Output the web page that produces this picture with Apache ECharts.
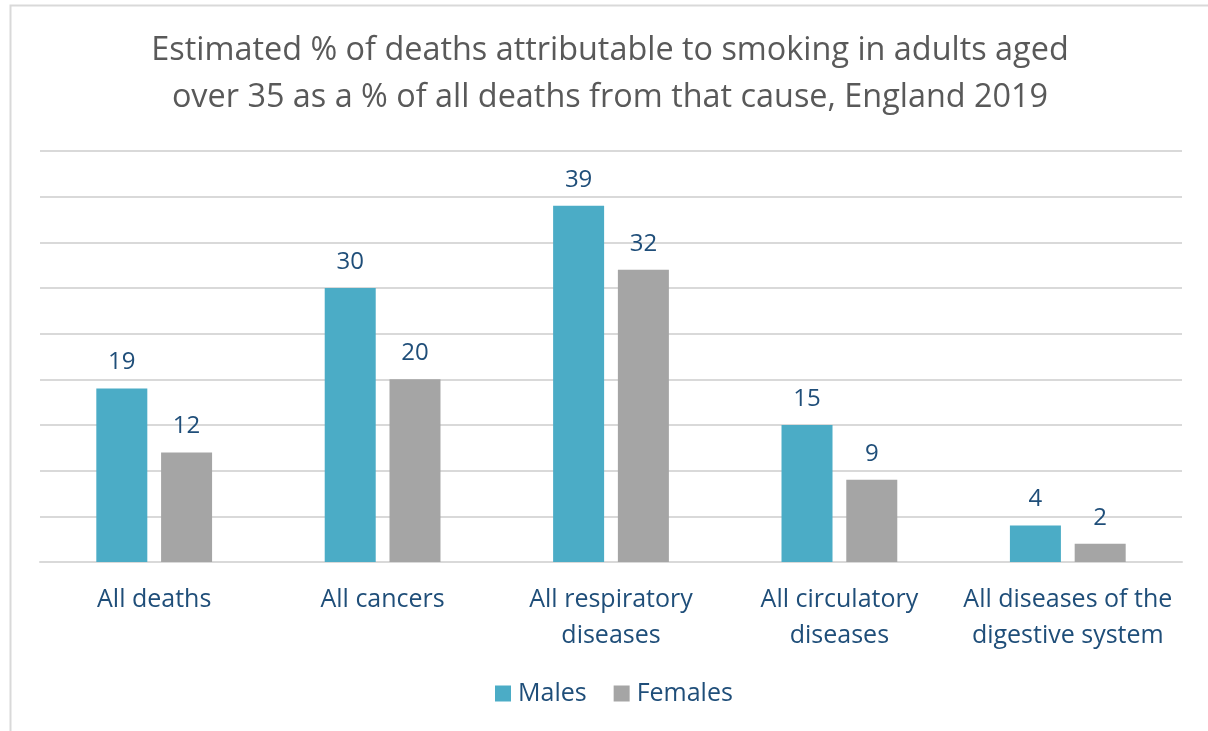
<!DOCTYPE html>
<html>
<head>
<meta charset="utf-8">
<script src="https://cdn.jsdelivr.net/npm/echarts@6/dist/echarts.min.js"></script>
<style>
  html, body { margin: 0; padding: 0; background: #ffffff; }
  #chart { width: 1208px; height: 731px; }
</style>
</head>
<body>
<div id="chart"></div>
<script>
// Cause-of-death groups along the x axis
const categories = [
  'All deaths',
  'All cancers',
  'All respiratory\ndiseases',
  'All circulatory\ndiseases',
  'All diseases of the\ndigestive system'
];
// Estimated % of deaths attributable to smoking
const males = [19, 30, 39, 15, 4];
const females = [12, 20, 32, 9, 2];
const seriesNames = ['Males', 'Females'];
const chartTitle = 'Estimated % of deaths attributable to smoking in adults aged\nover 35 as a % of all deaths from that cause, England 2019';

const FONT = '"Open Sans", Lato, sans-serif';
const LABEL_BLUE = '#1F4E79';

const chart = echarts.init(document.getElementById('chart'));

const labelStyle = {
  show: true,
  position: 'top',
  distance: 14,
  color: LABEL_BLUE,
  fontFamily: FONT,
  fontSize: 24
};

chart.setOption({
  backgroundColor: '#ffffff',
  animation: false,
  graphic: [
    {
      // outer frame of the chart area
      type: 'rect',
      shape: { x: 10.5, y: 5.5, width: 1260, height: 800 },
      style: { fill: 'none', stroke: '#D9D9D9', lineWidth: 2 },
      silent: true,
      z: -1
    },
    {
      // two-line title, centred over the plot
      type: 'text',
      x: 610,
      y: 27,
      silent: true,
      style: {
        text: chartTitle,
        align: 'center',
        textAlign: 'center',
        verticalAlign: 'top',
        textVerticalAlign: 'top',
        fill: '#595959',
        fontFamily: FONT,
        fontSize: 32.4,
        lineHeight: 47
      }
    }
  ],
  legend: {
    data: seriesNames,
    bottom: 20,
    left: 490,
    itemWidth: 16,
    itemHeight: 16,
    itemGap: 27,
    icon: 'rect',
    textStyle: { color: LABEL_BLUE, fontFamily: FONT, fontSize: 25, padding: [0, 0, 0, 2] }
  },
  grid: { left: 40, right: 26, top: 151, bottom: 169 },
  xAxis: {
    type: 'category',
    data: categories,
    axisLine: { show: true, lineStyle: { color: '#D9D9D9', width: 2 } },
    axisTick: { show: false },
    axisLabel: {
      interval: 0,
      color: LABEL_BLUE,
      fontFamily: FONT,
      fontSize: 25,
      lineHeight: 36,
      margin: 20
    }
  },
  yAxis: {
    type: 'value',
    min: 0,
    max: 45,
    interval: 5,
    axisLine: { show: false },
    axisTick: { show: false },
    axisLabel: { show: false },
    splitLine: { lineStyle: { color: '#D9D9D9', width: 2 } }
  },
  series: [
    {
      name: seriesNames[0],
      type: 'bar',
      data: males,
      barWidth: 51,
      barGap: '27%',
      itemStyle: { color: '#4BACC6' },
      label: labelStyle
    },
    {
      name: seriesNames[1],
      type: 'bar',
      data: females,
      barWidth: 51,
      itemStyle: { color: '#A5A5A5' },
      label: labelStyle
    }
  ]
});
</script>
</body>
</html>
